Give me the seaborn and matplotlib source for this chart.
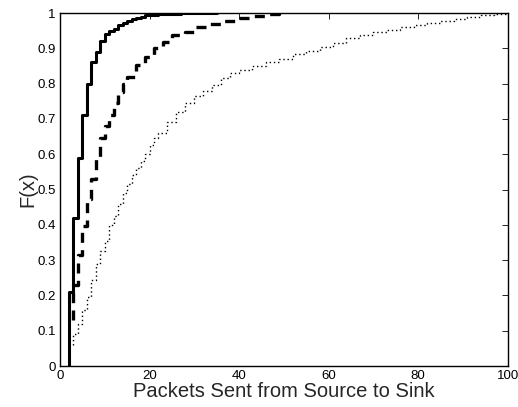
import matplotlib
matplotlib.use("Agg")
import matplotlib.pyplot as plt
import seaborn as sns
import pandas as pd

# Empirical CDF series (x = packets, F = cumulative fraction)
solid_x = [2, 2, 3, 4, 5, 6, 7, 8, 9, 10, 11, 12, 13, 14, 15, 16, 17, 18, 19, 20, 22, 24, 27, 30, 35]
solid_F = [0.0, 0.21, 0.42, 0.59, 0.71, 0.80, 0.86, 0.89, 0.92, 0.94, 0.948, 0.956, 0.965, 0.972,
           0.978, 0.983, 0.987, 0.990, 0.993, 0.995, 0.997, 0.998, 0.999, 1.0, 1.0]

dashed_x = [3, 3, 4, 5, 6, 7, 8, 9, 10, 11, 12, 13, 14, 15, 17, 19, 21, 23, 25, 28, 30, 33, 36,
            39, 43, 46, 49, 50]
dashed_F = [0.13, 0.23, 0.314, 0.397, 0.472, 0.53, 0.588, 0.645, 0.68, 0.71, 0.745, 0.775, 0.80,
            0.82, 0.853, 0.876, 0.90, 0.919, 0.938, 0.947, 0.959, 0.97, 0.978, 0.985, 0.992,
            0.997, 0.999, 1.0]

dotted_x = [3, 3, 4, 5, 6, 7, 8, 9, 10, 11, 12, 13, 14, 15, 16, 17, 18, 19, 20, 21, 22, 24, 26,
            28, 30, 32, 34, 36, 38, 40, 43, 46, 49, 52, 55, 58, 61, 64, 67, 70, 73, 76, 79, 82,
            85, 88, 91, 94, 97, 100]
dotted_F = [0.06, 0.09, 0.12, 0.16, 0.195, 0.245, 0.29, 0.325, 0.355, 0.40, 0.425, 0.46, 0.49,
            0.515, 0.54, 0.56, 0.58, 0.60, 0.625, 0.645, 0.66, 0.69, 0.72, 0.745, 0.765, 0.78,
            0.796, 0.815, 0.83, 0.84, 0.85, 0.86, 0.87, 0.883, 0.893, 0.905, 0.916, 0.93, 0.937,
            0.945, 0.952, 0.96, 0.966, 0.972, 0.977, 0.983, 0.988, 0.993, 0.997, 1.0]

x_ticks = [0, 20, 40, 60, 80, 100]
y_ticks = [0, 0.1, 0.2, 0.3, 0.4, 0.5, 0.6, 0.7, 0.8, 0.9, 1]
y_tick_labels = ["0", "0.1", "0.2", "0.3", "0.4", "0.5", "0.6", "0.7", "0.8", "0.9", "1"]
x_label = "Packets Sent from Source to Sink"
y_label = "F(x)"

sns.set_style("white")
plt.rcParams["font.family"] = ["Liberation Sans", "DejaVu Sans"]

fig = plt.figure(figsize=(5.18, 4.07), dpi=100)
ax = fig.add_axes([0.1158, 0.1007, 0.8642, 0.8673])

series = [
    (solid_x, solid_F, dict(linestyle="-", linewidth=2.2)),
    (dashed_x, dashed_F, dict(linestyle=(0, (3.0, 2.2)), linewidth=2.4)),
    (dotted_x, dotted_F, dict(linestyle=(0, (1.0, 2.0)), linewidth=1.0)),
]
for xs, fs, style in series:
    df = pd.DataFrame({"x": xs, "F": fs})
    sns.lineplot(data=df, x="x", y="F", ax=ax, estimator=None, sort=False,
                 drawstyle="steps-post", color="black", **style)

ax.set_xlim(0, 100)
ax.set_ylim(0, 1)
ax.set_xticks(x_ticks)
ax.set_xticklabels([str(t) for t in x_ticks])
ax.set_yticks(y_ticks)
ax.set_yticklabels(y_tick_labels)
ax.tick_params(direction="in", length=4, width=0.6, top=True, right=True,
               labelsize=9.5, colors="black", pad=3)
for s in ax.spines.values():
    s.set_visible(True)
    s.set_color("black")
    s.set_linewidth(1.0)
ax.set_xlabel(x_label, fontsize=14.5, labelpad=0)
ax.set_ylabel(y_label, fontsize=14.5, labelpad=0)
ax.grid(False)

fig.savefig("out.png", dpi=100)
